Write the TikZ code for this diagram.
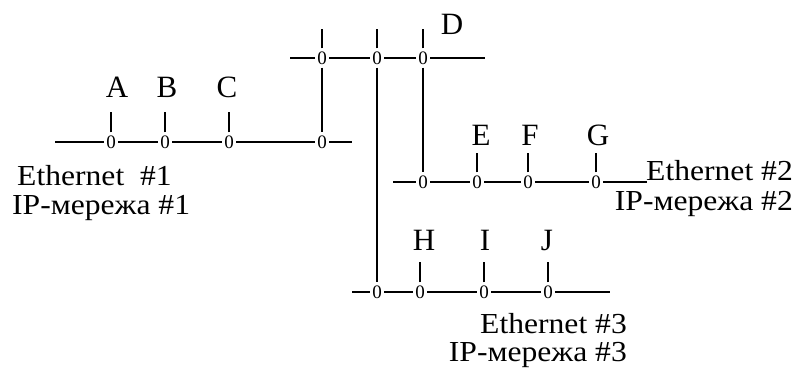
\documentclass[tikz,border=0pt]{standalone}
\usepackage{fontspec}
\setmainfont{Liberation Serif}
\newfontfamily\widefont{Liberation Serif}[FakeStretch=1.09]
\usetikzlibrary{positioning}

\tikzset{
	port/.style={font=\fontsize{19}{19}\selectfont, inner xsep=2.5pt, inner ysep=3pt},
	host/.style={font=\fontsize{31}{31}\selectfont, inner sep=0pt, anchor=base},
	net/.style={font=\widefont\fontsize{29}{29}\selectfont, inner sep=0pt},
	wire/.style={line width=1.9pt}
}

\begin{document}
\begin{tikzpicture}[x=1pt, y=-1pt]
	\useasboundingbox (0,0) rectangle (796,369);

	% router D, top segment
	\foreach \name/\x in {t1/322, t2/377, t3/423}
		\node[port] (\name) at (\x,58) {0};
	\coordinate (tl) at (290,58);
	\coordinate (tr) at (485,58);
	\draw[wire] (tl) -- (t1) -- (t2) -- (t3) -- (tr);
	\foreach \name in {t1, t2, t3}
		\draw[wire] (\name) -- ++(0,-29) coordinate (\name s);
	\node[host] (ld) at (452,35) {D};

	% Ethernet #1
	\foreach \name/\x in {a/111, b/165, c/229, r1/322}
		\node[port] (\name) at (\x,142) {0};
	\coordinate (l1) at (55,142);
	\coordinate (e1) at (352,142);
	\draw[wire] (l1) -- (a) -- (b) -- (c) -- (r1) -- (e1);
	\foreach \name/\lab/\x in {a/A/117, b/B/167, c/C/227} {
		\draw[wire] (\name) -- ++(0,-30) coordinate (\name s);
		\node[host] (l\name) at (\x,98) {\lab};
	}
	\node[net, anchor=base west] (eth1) at (17,185) {Ethernet\ \ \#1};
	\node[net, anchor=base west] (ip1) at (12,214) {IP-мережа \#1};

	% Ethernet #2
	\foreach \name/\x in {r2/423, e/477, f/528, g/596}
		\node[port] (\name) at (\x,182) {0};
	\coordinate (l2) at (393,182);
	\coordinate (e2) at (647,182);
	\draw[wire] (l2) -- (r2) -- (e) -- (f) -- (g) -- (e2);
	\foreach \name/\lab/\x in {e/E/481, f/F/530, g/G/598} {
		\draw[wire] (\name) -- ++(0,-29) coordinate (\name s);
		\node[host] (l\name) at (\x,146) {\lab};
	}
	\node[net, anchor=base east] (eth2) at (793,180) {Ethernet \#2};
	\node[net, anchor=base east] (ip2) at (793,210) {IP-мережа \#2};

	% Ethernet #3
	\foreach \name/\x in {r3/377, h/420, i/484, j/548}
		\node[port] (\name) at (\x,292) {0};
	\coordinate (l3) at (352,292);
	\coordinate (e3) at (610,292);
	\draw[wire] (l3) -- (r3) -- (h) -- (i) -- (j) -- (e3);
	\foreach \name/\lab/\x in {h/H/424, i/I/485, j/J/547} {
		\draw[wire] (\name) -- ++(0,-30) coordinate (\name s);
		\node[host] (l\name) at (\x,250) {\lab};
	}
	\node[net, anchor=base east] (eth3) at (627,333) {Ethernet \#3};
	\node[net, anchor=base east] (ip3) at (627,361) {IP-мережа \#3};

	% router ports down to the segments
	\draw[wire] (t1) -- (r1);
	\draw[wire] (t2) -- (r3);
	\draw[wire] (t3) -- (r2);
\end{tikzpicture}
\end{document}
